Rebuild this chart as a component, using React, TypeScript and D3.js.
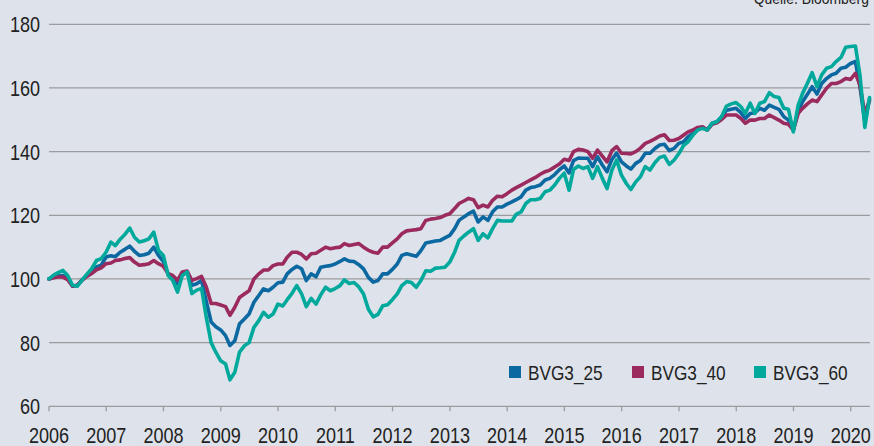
import React from "react";
import * as d3 from "d3";

// Month-end index values, Dec 2005 = 100 (index 0) to Apr 2020 (index 172)
const bvg25: number[] = [
  100, 100.5, 101.0, 101.1, 100.3, 97.7, 98.0, 99.8, 101.0, 102.2,
  103.8, 104.3, 106.9, 107.3, 107.0, 108.4, 109.3, 110.3, 108.7, 107.4,
  107.6, 108.1, 110.0, 107.4, 105.5, 101.5, 100.3, 98.5, 101.7, 102.2,
  98.0, 98.5, 99.5, 93.0, 86.5, 85.0, 84.0, 82.2, 79.1, 80.6,
  85.9, 87.4, 89.0, 92.7, 94.8, 96.9, 96.3, 97.4, 98.8, 99.0,
  101.6, 103.0, 104.0, 103.2, 99.5, 101.6, 100.7, 103.7, 104.0, 104.2,
  104.7, 105.5, 106.3, 105.6, 105.5, 104.5, 103.2, 100.5, 99.0, 99.5,
  101.6, 101.6, 103.0, 104.7, 107.4, 107.9, 107.5, 107.1, 108.9, 111.3,
  111.6, 111.9, 112.1, 112.9, 113.7, 115.8, 118.4, 119.5, 120.5, 121.3,
  117.9, 119.5, 118.4, 121.1, 122.6, 122.6, 123.5, 124.2, 124.9, 125.8,
  127.9, 128.7, 129.0, 129.5, 131.1, 131.6, 132.8, 134.3, 135.5, 133.3,
  137.2, 138.0, 137.9, 137.9, 135.3, 138.4, 135.8, 133.7, 137.6, 139.5,
  136.8, 135.5, 134.5, 136.3, 137.2, 139.5, 139.5, 141.0, 142.1, 142.3,
  140.3, 141.0, 142.6, 143.1, 144.7, 145.7, 147.3, 147.6, 146.8, 148.9,
  149.4, 151.0, 153.0, 153.3, 153.6, 152.2, 150.4, 152.0, 152.2, 153.6,
  153.0, 154.6, 153.9, 153.3, 151.0, 149.9, 146.8, 152.5, 155.7, 158.0,
  160.4, 158.1, 161.4, 163.0, 164.1, 164.6, 166.2, 166.5, 167.7, 168.3,
  160.4, 149.5, 156.5,
];

const bvg40: number[] = [
  100, 100.4, 100.6, 100.6, 99.8, 97.7, 98.0, 99.6, 100.8, 101.7,
  102.9, 103.5, 104.8, 105.0, 105.8, 106.0, 106.4, 106.7, 105.3, 104.3,
  104.5, 104.8, 105.8, 104.8, 104.0, 101.7, 101.1, 99.6, 102.2, 102.5,
  99.6, 100.1, 100.8, 97.5, 92.3, 92.3, 91.8, 91.3, 88.6, 91.1,
  94.2, 95.3, 96.3, 100.0, 101.6, 102.8, 102.8, 104.2, 104.7, 104.7,
  106.8, 108.4, 108.4, 107.7, 106.3, 107.9, 108.1, 109.0, 110.0, 109.5,
  109.8, 110.0, 111.1, 110.5, 110.8, 111.1, 110.0, 109.0, 108.4, 108.1,
  110.0, 110.0, 111.3, 112.6, 114.2, 115.1, 115.3, 115.5, 115.8, 118.4,
  118.8, 119.0, 119.3, 120.0, 120.5, 122.1, 123.7, 124.5, 125.3, 124.9,
  122.4, 123.2, 122.6, 124.7, 126.0, 125.8, 126.8, 127.9, 128.7, 129.5,
  130.3, 131.1, 131.9, 132.9, 133.7, 134.2, 135.2, 136.1, 137.6, 137.2,
  140.0, 140.7, 140.5, 140.0, 137.9, 140.5, 138.6, 136.8, 140.3, 141.6,
  139.5, 139.4, 139.3, 140.0, 141.1, 142.6, 143.2, 144.0, 144.9, 145.3,
  143.5, 143.6, 144.1, 145.2, 146.2, 146.8, 147.6, 147.8, 146.8, 148.6,
  149.1, 150.1, 151.5, 151.5, 151.5, 150.4, 148.9, 149.9, 149.9, 150.4,
  150.4, 151.5, 150.7, 149.9, 148.9, 148.6, 146.8, 152.0, 153.6, 155.0,
  156.2, 155.7, 157.8, 159.9, 161.4, 161.4, 162.0, 163.0, 162.7, 164.6,
  160.9, 152.0, 156.0,
];

const bvg60: number[] = [
  100, 101.2, 102.0, 102.7, 101.1, 98.0, 97.7, 99.6, 101.5, 103.2,
  105.8, 106.4, 108.4, 111.6, 110.5, 112.5, 114.0, 116.0, 113.1, 111.6,
  112.0, 112.6, 114.7, 109.0, 107.4, 101.1, 99.6, 95.9, 101.1, 102.2,
  95.4, 96.5, 97.0, 88.0, 80.0, 77.0, 74.3, 73.3, 68.3, 70.7,
  77.0, 79.0, 80.0, 84.8, 86.9, 89.5, 88.0, 89.0, 92.1, 91.5,
  93.5, 95.5, 97.9, 95.3, 91.3, 93.9, 92.1, 95.0, 97.4, 96.3,
  97.0, 97.9, 99.7, 98.6, 98.9, 97.5, 95.3, 90.5, 88.1, 88.9,
  91.6, 91.9, 93.5, 95.3, 97.9, 99.2, 98.9, 97.4, 99.5, 102.6,
  102.4, 103.4, 103.5, 103.7, 105.3, 108.4, 112.1, 113.5, 114.7, 115.8,
  112.1, 114.2, 112.9, 115.8, 118.4, 118.2, 118.2, 118.2, 120.3, 121.1,
  123.7, 124.9, 124.9, 125.3, 127.4, 127.9, 129.5, 131.6, 133.2, 127.9,
  134.4, 135.5, 134.7, 135.3, 131.6, 135.3, 131.6, 128.4, 134.2, 137.4,
  132.6, 130.0, 128.1, 130.5, 132.1, 135.3, 134.2, 136.5, 138.2, 138.6,
  136.0, 137.3, 139.4, 142.0, 143.1, 145.2, 146.8, 147.3, 146.8, 148.9,
  149.4, 151.0, 154.3, 155.0, 155.4, 154.1, 152.0, 155.2, 152.0, 155.2,
  155.7, 158.5, 157.3, 157.0, 153.6, 153.3, 146.2, 154.6, 158.3, 161.5,
  164.8, 160.4, 164.1, 166.2, 166.7, 168.3, 169.6, 172.8, 173.0, 173.2,
  164.1, 147.6, 157.0,
];

const seriesNames: string[] = ["BVG3_25", "BVG3_40", "BVG3_60"];
const seriesColors: string[] = ["#0b68a0", "#9b2a5e", "#00a99c"];
const yTicks: number[] = [60, 80, 100, 120, 140, 160, 180];
const yearTicks: number[] = [2006, 2007, 2008, 2009, 2010, 2011, 2012, 2013, 2014, 2015, 2016, 2017, 2018, 2019, 2020];
const sourceText = "Quelle: Bloomberg";

const W = 874;
const H = 446;
const FONT = "'Liberation Sans', Arial, sans-serif";
const SX = 0.82;

function NText(props: { x: number; y: number; anchor?: string; size: number; dy?: string; children: React.ReactNode }) {
  return (
    <text
      transform={`translate(${props.x},${props.y}) scale(${SX},1)`}
      textAnchor={props.anchor || "start"}
      dy={props.dy}
      fontFamily={FONT}
      fontSize={props.size}
      fill="#222"
    >
      {props.children}
    </text>
  );
}

export default function App() {
  const x = d3
    .scaleTime()
    .domain([new Date(2006, 0, 1), new Date(2020, 0, 1)])
    .range([49, 850.7]);
  const y = d3.scaleLinear().domain([60, 180]).range([406.3, 24.3]);

  const dates = bvg25.map((_, k) => new Date(2006, k, 0));
  const all = [bvg25, bvg40, bvg60];
  const line = d3
    .line<number>()
    .x((_, i) => x(dates[i]))
    .y((d) => y(d));

  const legendX = [509, 632, 754];

  return (
    <div style={{ position: "fixed", left: 0, top: 0, width: W, height: H }}>
      <svg width={W} height={H} style={{ display: "block", background: "#dee2ea" }}>
        <rect x={0} y={0} width={W} height={H} fill="#dee2ea" />
        {yTicks.map((t) => (
          <line key={t} x1={49} x2={870} y1={y(t)} y2={y(t)} stroke="#9b9c9f" strokeWidth={1.3} />
        ))}
        {yearTicks.map((yr) => (
          <line key={yr} x1={x(new Date(yr, 0, 1))} x2={x(new Date(yr, 0, 1))} y1={y(60)} y2={y(60) + 5} stroke="#9b9c9f" strokeWidth={1.3} />
        ))}
        {yTicks.map((t) => (
          <NText key={t} x={40} y={y(t)} dy="0.36em" anchor="end" size={22}>
            {t}
          </NText>
        ))}
        {yearTicks.map((yr) => (
          <NText key={yr} x={x(new Date(yr, 0, 1))} y={443} anchor="middle" size={22}>
            {yr}
          </NText>
        ))}
        <NText x={869} y={4} anchor="end" size={17}>
          {sourceText}
        </NText>
        {all.map((s, i) => (
          <path key={i} d={line(s) || ""} fill="none" stroke={seriesColors[i]} strokeWidth={3.6} strokeLinejoin="round" strokeLinecap="round" />
        ))}
        {seriesNames.map((n, i) => (
          <g key={n}>
            <rect x={legendX[i]} y={366} width={12} height={12} fill={seriesColors[i]} />
            <NText x={legendX[i] + 19} y={380} size={21}>
              {n}
            </NText>
          </g>
        ))}
      </svg>
    </div>
  );
}
